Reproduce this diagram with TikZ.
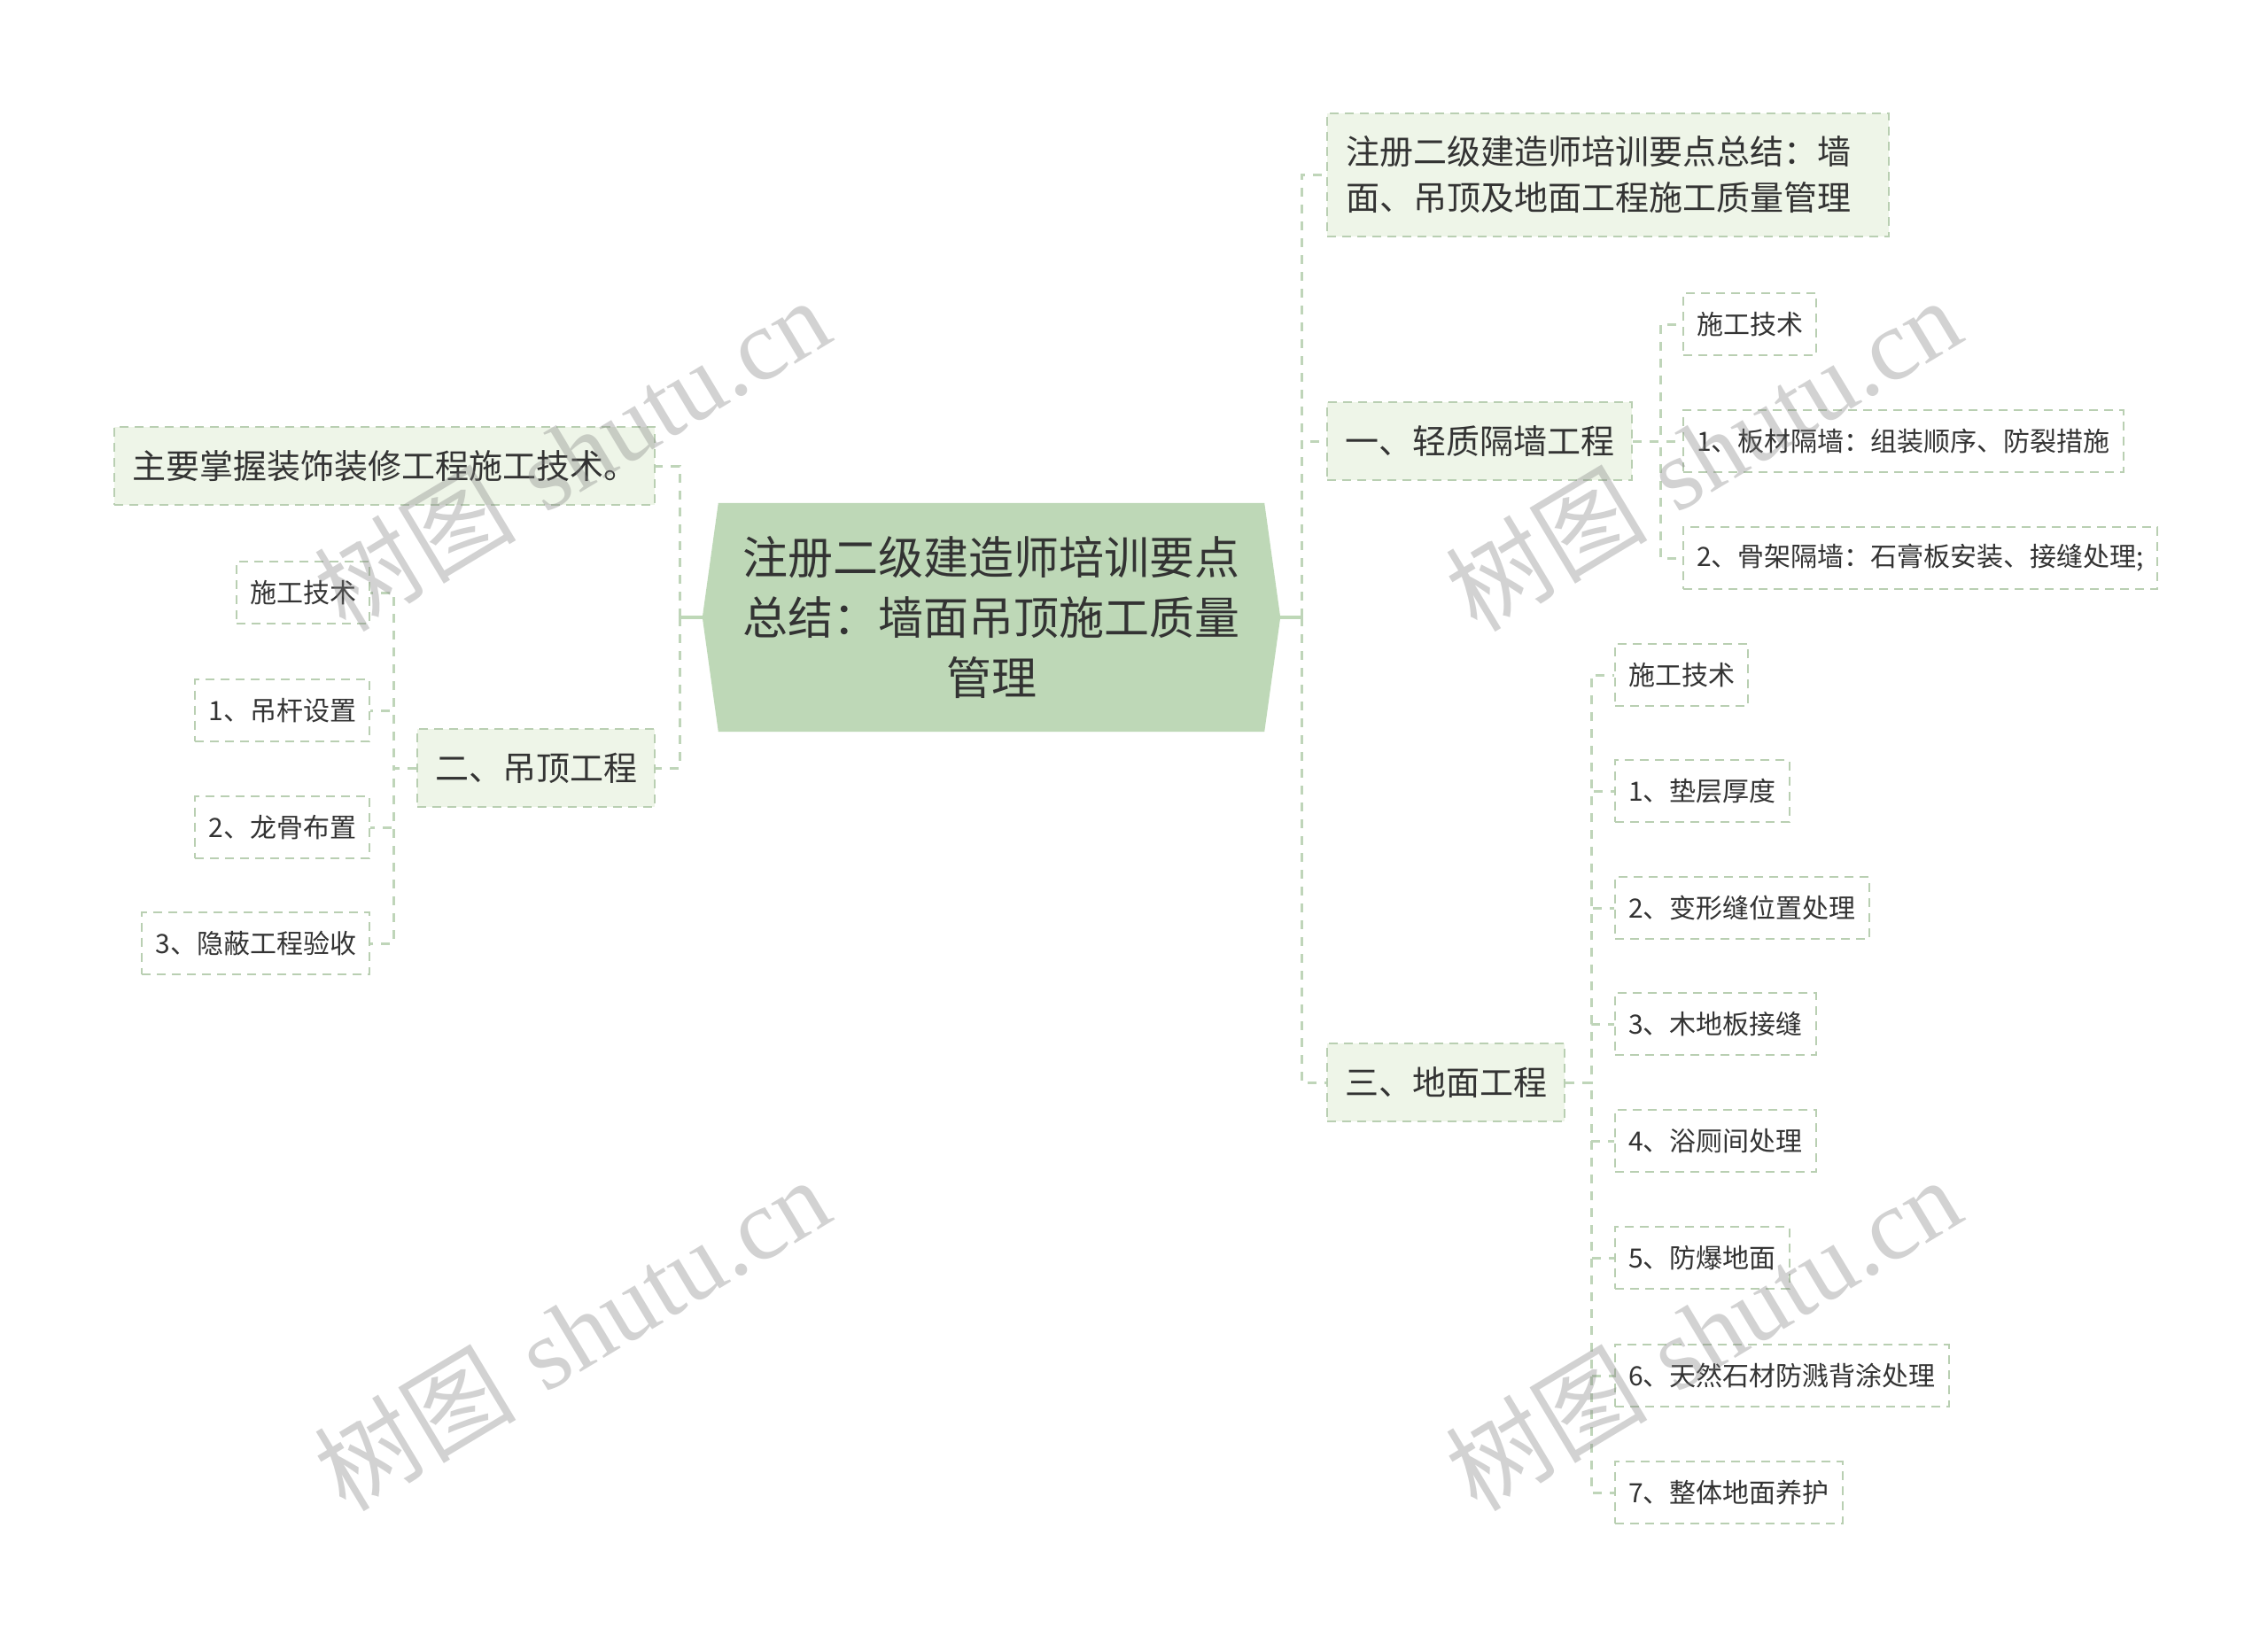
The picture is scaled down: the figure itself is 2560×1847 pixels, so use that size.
\documentclass[tikz,border=0pt]{standalone}
\usepackage{fontspec}
\newfontfamily\cjk{Noto Sans CJK SC}
\newfontfamily\wmlat{Liberation Serif}
\usetikzlibrary{backgrounds,calc}
\definecolor{cfillc}{HTML}{BED8B7}
\definecolor{mfillc}{HTML}{EEF5E8}
\definecolor{bordc}{HTML}{B9CFB2}
\definecolor{connc}{HTML}{BFD5B9}
\definecolor{txtc}{HTML}{333333}
\tikzset{
  basebox/.style={rectangle, text=txtc, draw=bordc, line width=2pt, dash pattern=on 10pt off 7pt, inner ysep=0pt},
  smallbox/.style={basebox, fill=white, font=\cjk\fontsize{30}{36}\selectfont, minimum height=70pt, inner xsep=15pt},
  midbox/.style={basebox, fill=mfillc, font=\cjk\fontsize{38}{52}\selectfont, minimum height=88pt, inner xsep=20pt},
  rootbox/.style={rectangle, text=txtc, align=center, font=\cjk\fontsize{51}{68}\selectfont, minimum width=652pt, minimum height=258pt, inner sep=0pt},
  cline/.style={draw=connc, line width=3pt, dash pattern=on 10pt off 9pt},
  stub/.style={draw=cfillc, line width=3.5pt},
  wm/.style={text=gray, text opacity=0.35, rotate=31, font=\fontsize{114}{114}\selectfont, inner sep=0pt}
}
\begin{document}
\begin{tikzpicture}[x=1pt,y=-1pt]
\useasboundingbox (0,0) rectangle (2560,1847);

% root
\node[rootbox] (root) at (1119,697) {注册二级建造师培训要点\\总结：墙面吊顶施工质量\\管理};
\begin{scope}[on background layer]
\fill[white] (0,0) rectangle (2560,1847);
\fill[cfillc] ($(root.north west)+(18,0)$) -- ($(root.north east)+(-18,0)$) -- (root.east) -- ($(root.south east)+(-18,0)$) -- ($(root.south west)+(18,0)$) -- (root.west) -- cycle;
\end{scope}

% right main branches
\node[midbox, align=left, text width=592pt, inner xsep=21pt, minimum height=139pt, anchor=west] (r0) at (1497,197) {注册二级建造师培训要点总结：墙\\面、吊顶及地面工程施工质量管理};
\node[midbox, anchor=west] (r1) at (1497,498) {一、轻质隔墙工程};
\node[midbox, anchor=west] (r2) at (1497,1222) {三、地面工程};

% left main branches
\node[midbox, anchor=east] (l1) at (740,526) {主要掌握装饰装修工程施工技术。};
\node[midbox, anchor=east] (l2) at (740,867) {二、吊顶工程};

% children of l2
\node[smallbox, anchor=east] (lc1) at (418,669) {施工技术};
\node[smallbox, anchor=east] (lc2) at (418,802) {1、吊杆设置};
\node[smallbox, anchor=east] (lc3) at (418,934) {2、龙骨布置};
\node[smallbox, anchor=east] (lc4) at (418,1065) {3、隐蔽工程验收};

% children of r1
\node[smallbox, anchor=west] (rc1) at (1899,366) {施工技术};
\node[smallbox, anchor=west] (rc2) at (1899,498) {1、板材隔墙：组装顺序、防裂措施};
\node[smallbox, anchor=west] (rc3) at (1899,630) {2、骨架隔墙：石膏板安装、接缝处理;};

% children of r2
\node[smallbox, anchor=west] (fc0) at (1822,762) {施工技术};
\node[smallbox, anchor=west] (fc1) at (1822,893) {1、垫层厚度};
\node[smallbox, anchor=west] (fc2) at (1822,1025) {2、变形缝位置处理};
\node[smallbox, anchor=west] (fc3) at (1822,1156) {3、木地板接缝};
\node[smallbox, anchor=west] (fc4) at (1822,1288) {4、浴厕间处理};
\node[smallbox, anchor=west] (fc5) at (1822,1420) {5、防爆地面};
\node[smallbox, anchor=west] (fc6) at (1822,1553) {6、天然石材防溅背涂处理};
\node[smallbox, anchor=west] (fc7) at (1822,1685) {7、整体地面养护};

% bus coordinates
\coordinate (bR) at (1469,697);
\coordinate (bL) at (767,697);
\coordinate (b1) at (1874,498);
\coordinate (b2) at (1796,1222);
\coordinate (b3) at (444,867);

% connectors from root
\draw[stub] (root.east) -- (bR);
\draw[stub] (root.west) -- (bL);
\draw[cline] (bR) |- (r0.west);
\draw[cline] (bR) |- (r1.west);
\draw[cline] (bR) |- (r2.west);
\draw[cline] (bL) |- (l1.east);
\draw[cline] (bL) |- (l2.east);

% sub connectors
\foreach \c in {lc1,lc2,lc3,lc4} \draw[cline] (l2.west) -- (b3) |- (\c.east);
\foreach \c in {rc1,rc2,rc3} \draw[cline] (r1.east) -- (b1) |- (\c.west);
\foreach \c in {fc0,fc1,fc2,fc3,fc4,fc5,fc6,fc7} \draw[cline] (r2.east) -- (b2) |- (\c.west);

% watermarks
\node[wm] (wm1) at (645,512) {{\cjk 树图} {\wmlat shutu.cn}};
\node[wm] (wm2) at (1922,512) {{\cjk 树图} {\wmlat shutu.cn}};
\node[wm] (wm3) at (645,1505) {{\cjk 树图} {\wmlat shutu.cn}};
\node[wm] (wm4) at (1922,1505) {{\cjk 树图} {\wmlat shutu.cn}};
\end{tikzpicture}
\end{document}
